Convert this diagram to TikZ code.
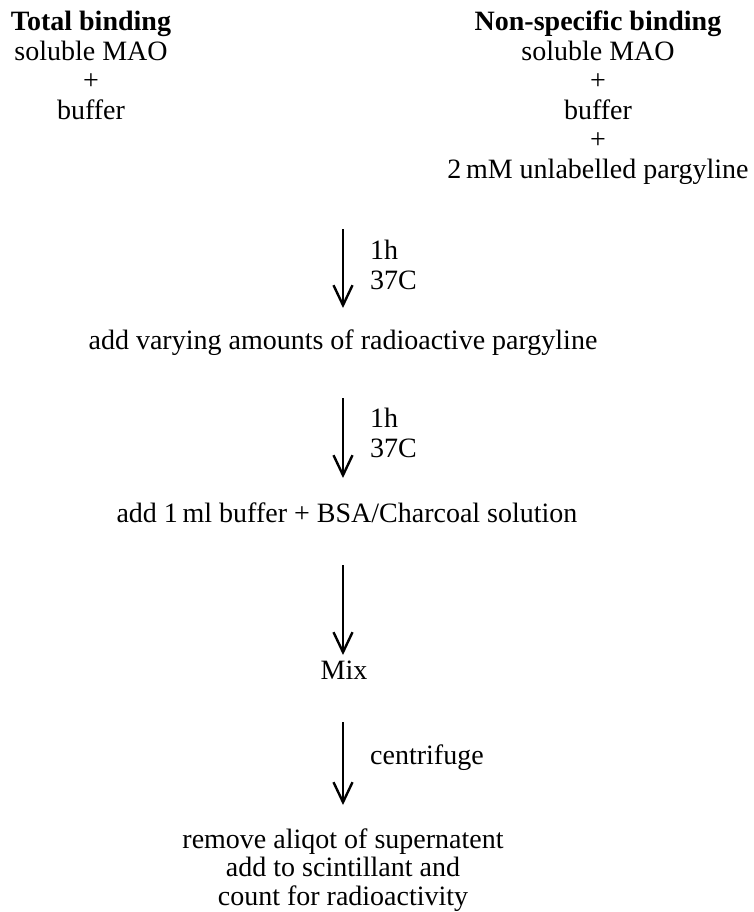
\documentclass[tikz,border=0pt]{standalone}
\usepackage{fontspec}
\setmainfont{Liberation Serif}
\usetikzlibrary{arrows.meta}
\begin{document}
\begin{tikzpicture}[x=1pt,y=-1pt,
  txt/.style={font=\fontsize{28}{30}\selectfont, inner sep=0pt, anchor=base},
  hdr/.style={txt, font=\fontsize{28}{30}\selectfont\bfseries},
  lbl/.style={font=\fontsize{28}{30}\selectfont, inner sep=0pt, anchor=base west},
  flow/.style={line width=2.4pt, -{Straight Barb[length=20pt,width=19pt,line width=2.4pt]}}]
\useasboundingbox (0,0) rectangle (754,912);
% left column
\node[hdr] (t1) at (91,31) {Total binding};
\node[txt] (t2) at (91,60.5) {soluble MAO};
\node[txt] (t3) at (91,90) {+};
\node[txt] (t4) at (91,119.5) {buffer};
% right column
\node[hdr] (n1) at (598,31) {Non-specific binding};
\node[txt] (n2) at (598,60.5) {soluble MAO};
\node[txt] (n3) at (598,90) {+};
\node[txt] (n4) at (598,119.5) {buffer};
\node[txt] (n5) at (598,149) {+};
\node[txt] (n6) at (598,178.5) {2\,mM unlabelled pargyline};
% steps
\coordinate (a1s) at (343,229);
\coordinate (a1e) at (343,308);
\node[lbl] (l1a) at (370,259) {1h};
\node[lbl] (l1b) at (370,289) {37C};
\node[txt] (s1) at (343,349) {add varying amounts of radioactive pargyline};
\coordinate (a2s) at (343,398);
\coordinate (a2e) at (343,478);
\node[lbl] (l2a) at (370,427) {1h};
\node[lbl] (l2b) at (370,457) {37C};
\node[txt] (s2) at (347,522) {add 1\,ml buffer + BSA/Charcoal solution};
\coordinate (a3s) at (343,565);
\coordinate (a3e) at (343,655);
\node[txt] (s3) at (344,679) {Mix};
\coordinate (a4s) at (343,722);
\coordinate (a4e) at (343,805);
\node[lbl] (l4) at (370,764) {centrifuge};
\node[txt] (f1) at (343,848) {remove aliqot of supernatent};
\node[txt] (f2) at (343,876.5) {add to scintillant and};
\node[txt] (f3) at (343,905) {count for radioactivity};
\draw[flow] (a1s) -- (a1e);
\draw[flow] (a2s) -- (a2e);
\draw[flow] (a3s) -- (a3e);
\draw[flow] (a4s) -- (a4e);
\end{tikzpicture}
\end{document}
